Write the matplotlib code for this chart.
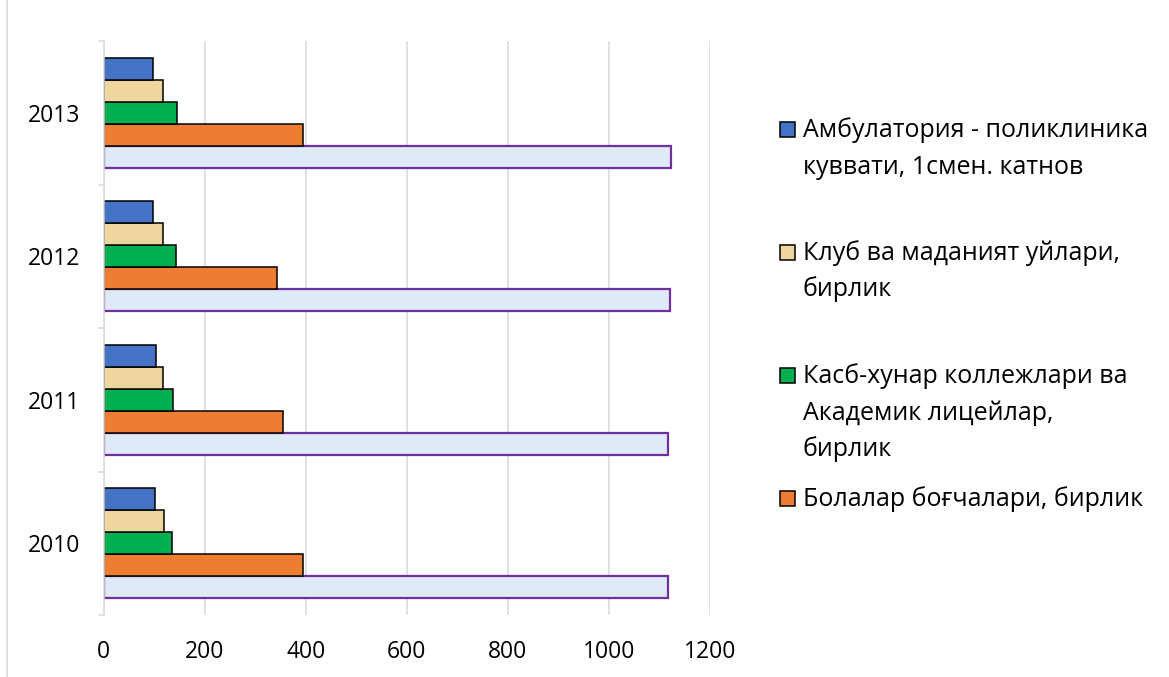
import matplotlib
matplotlib.use("Agg")
import matplotlib.pyplot as plt
from matplotlib.patches import Rectangle
import numpy as np

plt.rcParams['font.family'] = ['Open Sans', 'DejaVu Sans']

years = ["2010", "2011", "2012", "2013"]

# series listed bottom-to-top inside each year group
total_series = [1117, 1116, 1120, 1123]          # light blue bar, not in legend
kindergartens = [395, 356, 343, 394]              # orange
colleges = [136, 137, 144, 146]                   # green
clubs = [119, 118, 117, 117]                      # tan
clinics = [102, 103, 97, 97]                      # blue

labels = {
    "clinics": "Амбулатория - поликлиника\nкуввати, 1смен. катнов",
    "clubs": "Клуб ва маданият уйлари,\nбирлик",
    "colleges": "Касб-хунар коллежлари ва\nАкадемик лицейлар,\nбирлик",
    "kindergartens": "Болалар боғчалари, бирлик",
}

W, H = 1169, 677
fig = plt.figure(figsize=(W / 100, H / 100), dpi=100)
ax = fig.add_axes([103.5 / W, 1 - 615 / H, (710 - 103.5) / W, (615 - 41) / H])

y = np.arange(len(years))
bw = 1 / 6.5
series = [
    (total_series, "#DEEAF6", "#7030A0", 1.6),
    (kindergartens, "#ED7D31", "black", 1.1),
    (colleges, "#00B050", "black", 1.1),
    (clubs, "#EFD69E", "black", 1.1),
    (clinics, "#4472C4", "black", 1.1),
]
for i, (vals, fc, ec, lw) in enumerate(series):
    ax.barh(y + (i - 2) * bw, vals, height=bw, color=fc, edgecolor=ec,
            linewidth=lw, zorder=2 + i * 0.1)

ax.set_xlim(0, 1200)
ax.set_ylim(-0.5, len(years) - 0.5)
ax.set_xticks(range(0, 1201, 200))
ax.set_yticks(y)
ax.set_yticklabels(years)
ax.set_yticks(np.arange(-0.5, len(years)), minor=True)
ax.tick_params(axis='y', which='major', length=0, pad=17, labelsize=16.5)
ax.tick_params(axis='y', which='minor', length=4.5, color='#d9d9d9', width=1.1)
ax.tick_params(axis='x', length=0, pad=18, labelsize=16.5)
ax.grid(axis='x', color='#d9d9d9', linewidth=1.1, zorder=0)
for s in ['top', 'right', 'bottom']:
    ax.spines[s].set_visible(False)
ax.spines['left'].set_color('#d9d9d9')
ax.spines['left'].set_linewidth(1.1)

# manual legend (entries positioned like the original)
entries = [
    (labels["clinics"], "#4472C4", 137),
    (labels["clubs"], "#EFD69E", 260),
    (labels["colleges"], "#00B050", 383),
    (labels["kindergartens"], "#ED7D31", 506),
]
for text, fc, base in entries:
    fig.patches.append(Rectangle((780 / W, 1 - base / H), 15 / W, 15 / H,
                                 transform=fig.transFigure, facecolor=fc,
                                 edgecolor='black', linewidth=1.1))
    for k, line in enumerate(text.split("\n")):
        fig.text(803 / W, 1 - (base + 36.5 * k) / H, line, fontsize=18,
                 va='baseline', ha='left')

# chart border
fig.patches.append(Rectangle((7 / W, -0.2), 1.2, 1.2 + (1 - 12 / H),
                             transform=fig.transFigure, facecolor='none',
                             edgecolor='#d9d9d9', linewidth=1.1))

fig.savefig("out.png", dpi=100)
